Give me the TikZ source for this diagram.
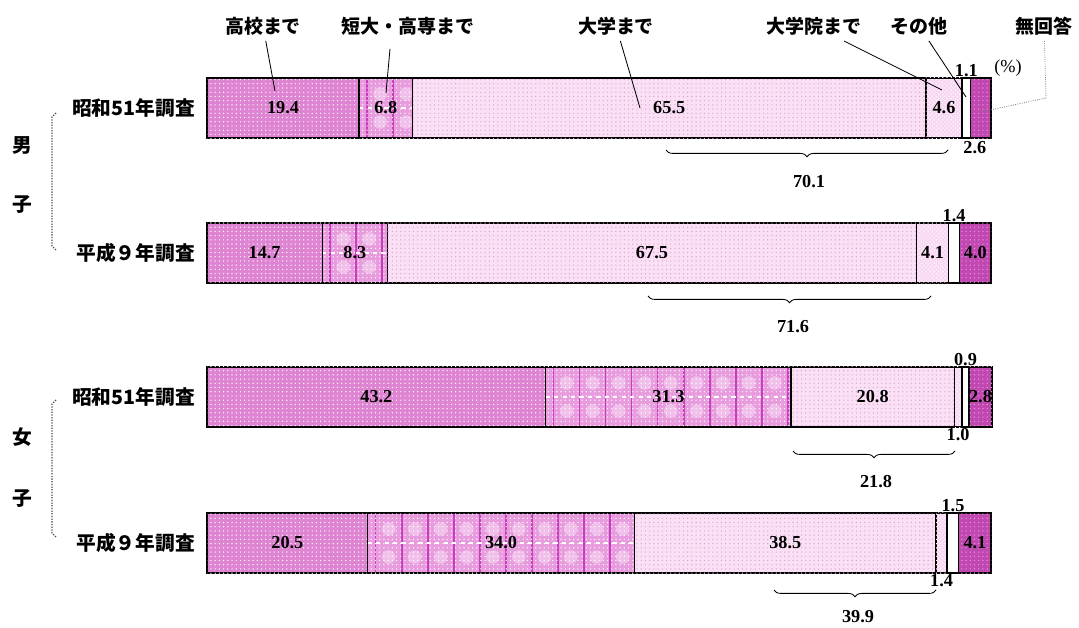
\documentclass[tikz,border=0pt]{standalone}
\usepackage{fontspec}
\setmainfont{Liberation Serif}
\newfontfamily\jp{Noto Sans CJK JP}
\usepackage{tikz}
\usetikzlibrary{positioning}
\usetikzlibrary{calc, patterns}
\usetikzlibrary{decorations.pathreplacing}

\definecolor{hsc}{RGB}{222,132,210}
\definecolor{jcc}{RGB}{232,156,222}
\definecolor{gridc}{RGB}{200,60,190}
\definecolor{unc}{RGB}{251,224,245}
\definecolor{und}{RGB}{214,170,206}
\definecolor{gsc}{RGB}{248,216,242}
\definecolor{nac}{RGB}{192,72,176}
\definecolor{nad}{RGB}{232,150,222}

\tikzset{
  segbox/.style={draw=black, line width=0.9pt, minimum height=1.5cm, inner sep=0pt, outer sep=0pt,
    font=\fontsize{13}{13}\selectfont\bfseries},
  segHS/.style={segbox, fill=hsc, postaction={pattern=dots, pattern color=white}},
  segJC/.style={segbox, fill=jcc,
    path picture={
      \foreach \k in {0,...,14}{
        \fill[jcc!65!white] ([xshift=\k*0.65cm+0.525cm, yshift=-0.4cm]path picture bounding box.north west) circle (0.17cm);
        \fill[jcc!65!white] ([xshift=\k*0.65cm+0.525cm, yshift=-1.1cm]path picture bounding box.north west) circle (0.17cm);
        \draw[gridc, line width=1.1pt] ([xshift=\k*0.65cm+0.2cm]path picture bounding box.north west) -- ([xshift=\k*0.65cm+0.2cm]path picture bounding box.south west);
      }
      \draw[white, dashed, line width=0.8pt] ([yshift=-0.75cm]path picture bounding box.north west) -- ([yshift=-0.75cm]path picture bounding box.north east);
    },
    postaction={pattern=dots, pattern color=white}},
  segUN/.style={segbox, fill=unc, postaction={pattern=dots, pattern color=und}},
  segGS/.style={segbox, fill=gsc, postaction={pattern=crosshatch dots, pattern color=white}},
  segOT/.style={segbox, fill=white},
  segNA/.style={segbox, fill=nac, postaction={pattern=dots, pattern color=nad}},
  num/.style={font=\fontsize{13}{13}\selectfont\bfseries, inner sep=1pt},
  cat/.style={font={\fontsize{13.5}{14}\jp\bfseries}, inner sep=4pt},
  row/.style={font={\fontsize{14}{14}\jp\bfseries}, inner sep=0pt},
  grp/.style={font={\fontsize{14}{14}\jp\bfseries}},
  lead/.style={line width=0.6pt},
  leadNA/.style={line width=0.6pt, gray, densely dotted},
  brc/.style={line width=0.6pt, decorate, decoration={brace, mirror, amplitude=0.17cm}},
  brk/.style={line width=0.9pt, black!70, densely dotted}
}

% one bar: name, top edge, list of value/style/label
\newcommand{\drawbar}[3]{%
  \foreach \val/\sty/\lab [count=\i, remember=\xe as \xs (initially 0)] in {#3} {
    \pgfmathsetmacro{\xe}{\xs+\val}
    \node[\sty, minimum width={\val*0.196cm}, anchor=north west] (#1-\i) at ({207+7.84*\xs},#2) {\lab};
  }
}

\begin{document}
\begin{tikzpicture}[x=0.025cm, y=-0.025cm]
  \useasboundingbox (0,0) rectangle (1079,628);

  % bars
  \drawbar{m1}{78}{19.4/segHS/19.4, 6.8/segJC/6.8, 65.5/segUN/65.5, 4.6/segGS/4.6, 1.1/segOT/{}, 2.6/segNA/{}}
  \drawbar{m2}{223}{14.7/segHS/14.7, 8.3/segJC/8.3, 67.5/segUN/67.5, 4.1/segGS/4.1, 1.4/segOT/{}, 4.0/segNA/4.0}
  \drawbar{f1}{367}{43.2/segHS/43.2, 31.3/segJC/31.3, 20.8/segUN/20.8, 1.0/segGS/{}, 0.9/segOT/{}, 2.8/segNA/2.8}
  \drawbar{f2}{513}{20.5/segHS/20.5, 34.0/segJC/34.0, 38.5/segUN/38.5, 1.4/segGS/{}, 1.5/segOT/{}, 4.1/segNA/4.1}

  % row labels
  \node[row, left=0.3cm of m1-1] (rM1) {昭和51年調査};
  \node[row, left=0.3cm of m2-1] (rM2) {平成９年調査};
  \node[row, left=0.3cm of f1-1] (rF1) {昭和51年調査};
  \node[row, left=0.3cm of f2-1] (rF2) {平成９年調査};

  \node[grp] (gM1) at (22,145) {男};
  \node[grp] (gM2) at (22,205) {子};
  \node[grp] (gF1) at (22,437) {女};
  \node[grp] (gF2) at (22,499) {子};
  \draw[brk] (56,113) -- (52,117) -- (52,246) -- (56,250);
  \draw[brk] (56,400) -- (52,404) -- (52,533) -- (56,537);

  % category labels and leaders
  \node[cat] (tHS) at (263,26) {高校まで};
  \node[cat] (tJC) at (408,26) {短大・高専まで};
  \node[cat] (tUN) at (616,26) {大学まで};
  \node[cat] (tGS) at (814,26) {大学院まで};
  \node[cat] (tOT) at (919,26) {その他};
  \node[cat] (tNA) at (1044,26) {無回答};

  \coordinate (pHS) at (275,91);
  \coordinate (pJC) at (386,93);
  \coordinate (pUN) at (640,108);
  \coordinate (pGS) at (942,90);
  \coordinate (pOT) at (966,97);
  \coordinate (kNA) at (1046,98);
  \coordinate (pNA) at (981,112);
  \draw[lead] (tHS) -- (pHS);
  \draw[lead] ([xshift=-0.45cm,yshift=-0.2cm]tJC.south) -- (pJC);
  \draw[lead] (tUN) -- (pUN);
  \draw[lead] (tGS) -- (pGS);
  \draw[lead] (tOT) -- (pOT);
  \draw[leadNA] (tNA) -- (kNA) -- (pNA);

  % small values outside the bars
  \node[num, above=0pt of m1-5] (v1) {1.1};
  \node[num] (pct) at (1008,68) {\mdseries(\%)};
  \node[num, below=0.05cm of m1-6, xshift=-0.15cm] (v2) {2.6};
  \node[num, above=0pt of m2-5] (v3) {1.4};
  \node[num, above=0pt of f1-5] (v4) {0.9};
  \node[num, below=0pt of f1-4] (v5) {1.0};
  \node[num, above=0pt of f2-5] (v6) {1.5};
  \node[num, below=0pt of f2-4] (v7) {1.4};

  % braces
  \coordinate (bm1a) at (666,150); \coordinate (bm1b) at (948,150);
  \coordinate (bm2a) at (648,296); \coordinate (bm2b) at (931,296);
  \coordinate (bf1a) at (793,451); \coordinate (bf1b) at (955,451);
  \coordinate (bf2a) at (774,590); \coordinate (bf2b) at (936,590);
  \draw[brc] (bm1a) -- (bm1b);
  \draw[brc] (bm2a) -- (bm2b);
  \draw[brc] (bf1a) -- (bf1b);
  \draw[brc] (bf2a) -- (bf2b);
  \node[num] (s1) at (809,182) {70.1};
  \node[num] (s2) at (793,327) {71.6};
  \node[num] (s3) at (876,482) {21.8};
  \node[num] (s4) at (858,617) {39.9};
\end{tikzpicture}
\end{document}
